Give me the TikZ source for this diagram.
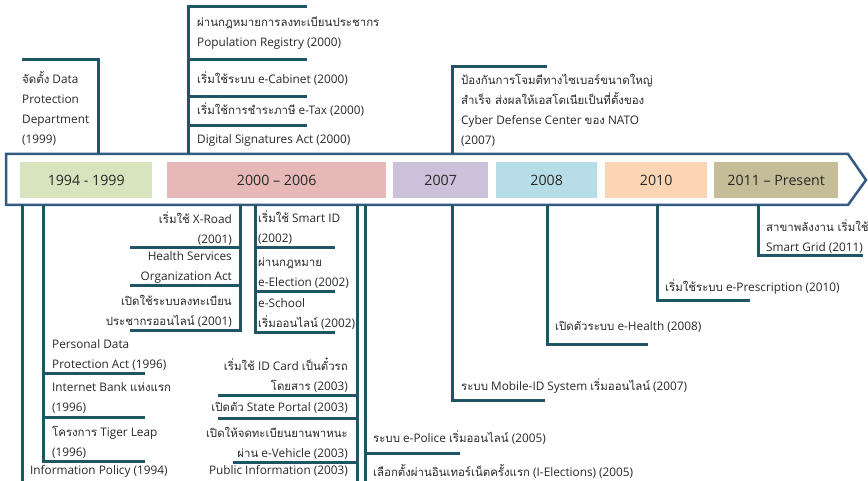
\documentclass[tikz,border=0pt]{standalone}
\usepackage{fontspec}
\setmainfont{Open Sans}
\newfontfamily\thaifont[Script=Thai,Scale=0.97]{Loma}
\newcommand\tha[1]{{\thaifont #1}}
\definecolor{tlc}{RGB}{52,92,128}
\definecolor{lnc}{RGB}{30,86,102}
\definecolor{txt}{RGB}{40,40,40}
\definecolor{cA}{HTML}{D7E4BD}
\definecolor{cB}{HTML}{E6B9B8}
\definecolor{cC}{HTML}{CCC1DA}
\definecolor{cD}{HTML}{B7DEE8}
\definecolor{cE}{HTML}{FCD5B5}
\definecolor{cF}{HTML}{C4BD97}
\begin{document}
\begin{tikzpicture}[x=1pt,y=-1pt,
  tl/.style={draw=tlc, line width=2.5pt, line join=miter},
  conn/.style={draw=lnc, line width=3pt},
  yearbox/.style={minimum height=36pt, inner sep=0, font=\fontsize{14.2}{16}\selectfont, text=txt, anchor=west},
  lbl/.style={inner sep=0, font=\fontsize{11.8}{20}\selectfont, text=txt, align=left, anchor=west},
  lblr/.style={inner sep=0, font=\fontsize{11.8}{20}\selectfont, text=txt, align=right, anchor=east}]
\useasboundingbox (0,0) rectangle (868,481);
% timeline arrow
\draw[tl] (6,154) -- (848,154) -- (866,180) -- (848,205) -- (6,205) -- cycle;
\node[yearbox, fill=cA, minimum width=132pt] (y1) at (20,180) {1994 - 1999};
\node[yearbox, fill=cB, minimum width=219pt] (y2) at (167,180) {2000 -- 2006};
\node[yearbox, fill=cC, minimum width=95pt] (y3) at (393,180) {2007};
\node[yearbox, fill=cD, minimum width=101pt] (y4) at (496,180) {2008};
\node[yearbox, fill=cE, minimum width=102pt] (y5) at (605,180) {2010};
\node[yearbox, fill=cF, minimum width=124pt] (y6) at (714,180) {2011 -- Present};
% top connectors
\draw[conn] (22,60) -- (98,60) -- (98,154);
\draw[conn] (307,7) -- (188,7) -- (188,154);
\draw[conn] (188,60) -- (307,60);
\draw[conn] (188,97) -- (307,97);
\draw[conn] (188,126) -- (307,126);
\draw[conn] (547,67) -- (452,67) -- (452,154);
% top labels
\node[lbl] (t1) at (22,108) {\tha{จัดตั้ง} Data\\Protection\\Department\\(1999)};
\node[lbl] (t2) at (197,33) {\tha{ผ่านกฎหมายการลงทะเบียนประชากร}\\Population Registry (2000)};
\node[lbl] (t3) at (197,79) {\tha{เริ่มใช้ระบบ} e-Cabinet (2000)};
\node[lbl] (t4) at (197,110) {\tha{เริ่มใช้การชำระภาษี} e-Tax (2000)};
\node[lbl] (t5) at (197,140) {Digital Signatures Act (2000)};
\node[lbl] (t6) at (461,110) {\tha{ป้องกันการโจมตีทางไซเบอร์ขนาดใหญ่}\\\tha{สำเร็จ ส่งผลให้เอสโตเนียเป็นที่ตั้งของ}\\Cyber Defense Center \tha{ของ} NATO\\(2007)};
% bottom connectors
\draw[conn] (22,205) -- (22,481);
\draw[conn] (43,205) -- (43,461) -- (145,461);
\draw[conn] (43,373) -- (145,373);
\draw[conn] (43,417) -- (145,417);
\draw[conn] (240,205) -- (240,330) -- (130,330);
\draw[conn] (130,248) -- (240,248);
\draw[conn] (130,286) -- (240,286);
\draw[conn] (255,205) -- (255,332) -- (335,332);
\draw[conn] (255,248) -- (335,248);
\draw[conn] (255,292) -- (335,292);
\draw[conn] (357,205) -- (357,481);
\draw[conn] (218,395) -- (357,395);
\draw[conn] (218,418) -- (357,418);
\draw[conn] (233,462) -- (357,462);
\draw[conn] (365,205) -- (365,481);
\draw[conn] (365,453) -- (460,453);
\draw[conn] (452,205) -- (452,400) -- (545,400);
\draw[conn] (547,205) -- (547,344) -- (648,344);
\draw[conn] (657,205) -- (657,301) -- (750,301);
\draw[conn] (758,205) -- (758,256) -- (863,256);
% bottom labels
\node[lblr] (b1) at (232,229) {\tha{เริ่มใช้} X-Road\\(2001)};
\node[lblr] (b2) at (232,267) {Health Services\\Organization Act};
\node[lblr] (b3) at (232,311) {\tha{เปิดใช้ระบบลงทะเบียน}\\\tha{ประชากรออนไลน์} (2001)};
\node[lbl] (b4) at (258,228) {\tha{เริ่มใช้} Smart ID\\(2002)};
\node[lbl] (b5) at (258,273) {\tha{ผ่านกฎหมาย}\\e-Election (2002)};
\node[lbl] (b6) at (258,314) {e-School\\\tha{เริ่มออนไลน์} (2002)};
\node[lbl] (b7) at (52,355) {Personal Data\\Protection Act (1996)};
\node[lbl] (b8) at (52,398) {Internet Bank \tha{แห่งแรก}\\(1996)};
\node[lbl] (b9) at (52,442) {\tha{โครงการ} Tiger Leap\\(1996)};
\node[lbl] (b10) at (30,471) {Information Policy (1994)};
\node[lblr] (b11) at (348,375) {\tha{เริ่มใช้} ID Card \tha{เป็นตั๋วรถ}\\\tha{โดยสาร} (2003)};
\node[lblr] (b12) at (348,408) {\tha{เปิดตัว} State Portal (2003)};
\node[lblr] (b13) at (348,443) {\tha{เปิดให้จดทะเบียนยานพาหนะ}\\\tha{ผ่าน} e-Vehicle (2003)};
\node[lblr] (b14) at (348,471) {Public Information (2003)};
\node[lbl] (b15) at (373,438) {\tha{ระบบ} e-Police \tha{เริ่มออนไลน์} (2005)};
\node[lbl] (b16) at (373,471) {\tha{เลือกตั้งผ่านอินเทอร์เน็ตครั้งแรก} (I-Elections) (2005)};
\node[lbl] (b17) at (461,386) {\tha{ระบบ} Mobile-ID System \tha{เริ่มออนไลน์} (2007)};
\node[lbl] (b18) at (555,327) {\tha{เปิดตัวระบบ} e-Health (2008)};
\node[lbl] (b19) at (665,287) {\tha{เริ่มใช้ระบบ} e-Prescription (2010)};
\node[lbl] (b20) at (766,237) {\tha{สาขาพลังงาน เริ่มใช้}\\Smart Grid (2011)};
\end{tikzpicture}
\end{document}
